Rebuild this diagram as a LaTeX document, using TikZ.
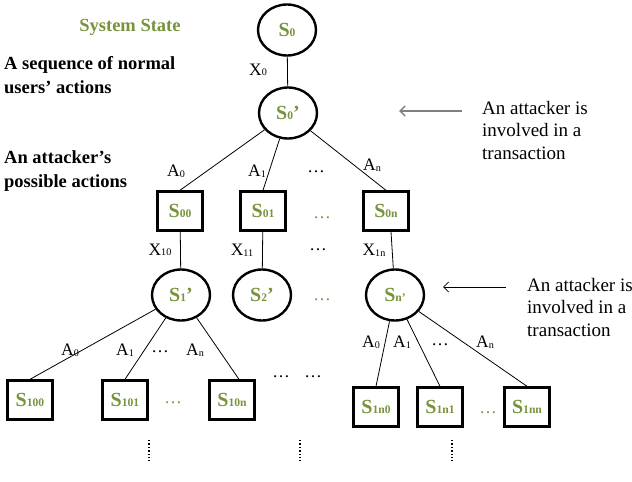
\documentclass[tikz,border=0pt]{standalone}
\usepackage{fontspec}
\setmainfont{Liberation Serif}
\usetikzlibrary{arrows,arrows.meta}
\usetikzlibrary{shapes}
\definecolor{stategreen}{HTML}{77933C}
\newcommand{\ix}[1]{\raisebox{-0.6pt}{\scalebox{0.58}{#1}}}
\tikzset{
  state/.style={ellipse, draw, line width=2.4pt, minimum width=58pt,
    minimum height=51pt, inner sep=0pt, text=stategreen,
    font=\fontsize{20}{20}\selectfont\bfseries},
  choice/.style={rectangle, draw, line width=2.4pt, minimum width=45pt,
    minimum height=39pt, inner sep=0pt, text=stategreen,
    font=\fontsize{20}{20}\selectfont\bfseries},
  lbl/.style={font=\fontsize{17.5}{17.5}\selectfont, inner sep=0pt},
  gdots/.style={lbl, text=stategreen},
  caption/.style={align=left, inner sep=0pt,
    font=\fontsize{18.5}{24}\selectfont\bfseries},
  note/.style={align=left, anchor=west, inner sep=0pt,
    font=\fontsize{19}{22.5}\selectfont},
  branch/.style={line width=0.8pt},
  pointer/.style={-{Straight Barb[length=5pt,width=10pt]}},
  vdots/.style={line width=1.8pt, dash pattern=on 1.4pt off 2pt},
}

\begin{document}
\begin{tikzpicture}[x=1pt, y=-1pt]
  \useasboundingbox (0,0) rectangle (632,482);

  \node[caption, text=stategreen] (title) at (130,27) {System State};
  \node[caption, anchor=west] (normal) at (4,75) {A sequence of normal\\users’ actions};
  \node[caption, anchor=west] (attack) at (4,171) {An attacker’s\\possible actions};

  \node[state] (S0) at (287,30) {S\ix{0}};
  \node[state] (S0p) at (288,113) {S\ix{0}’};
  \draw[branch] (S0) -- (S0p);
  \node[lbl] (x0) at (258,70) {X\ix{0}};

  \node[choice] (S00) at (180,211) {S\ix{00}};
  \node[choice] (S01) at (263,211) {S\ix{01}};
  \node[choice] (S0n) at (386,211) {S\ix{0n}};
  \node[gdots] (gd1) at (322,218) {\ldots};
  \draw[branch] (S0p) -- (S00.north) (S0p) -- (S01.north) (S0p) -- (S0n.north);
  \node[lbl] (a0) at (176,171) {A\ix{0}};
  \node[lbl] (a1) at (257,171) {A\ix{1}};
  \node[lbl] (ad) at (316,172) {\ldots};
  \node[lbl] (an) at (372,165) {A\ix{n}};

  \node[state] (S1p) at (181,295) {S\ix{1}’};
  \node[state] (S2p) at (262,295) {S\ix{2}’};
  \node[state] (Snp) at (395,295) {S\ix{n’}};
  \node[gdots] (gd2) at (322,300) {\ldots};
  \draw[branch] (S00) -- (S1p) (S01) -- (S2p) ([xshift=5pt]S0n.south) -- (Snp);
  \node[lbl] (x10) at (160,250) {X\ix{10}};
  \node[lbl] (x11) at (242,250) {X\ix{11}};
  \node[lbl] (xd) at (318,250) {\ldots};
  \node[lbl] (x1n) at (374,250) {X\ix{1n}};

  \node[choice] (S100) at (30,400) {S\ix{100}};
  \node[choice] (S101) at (125,400) {S\ix{101}};
  \node[choice] (S10n) at (232,400) {S\ix{10n}};
  \node[gdots] (gd3) at (173,403) {\ldots};
  \draw[branch] (S1p) -- (S100.north) (S1p) -- (S101.north)
    (S1p) -- ([xshift=7pt]S10n.north);
  \node[lbl] (b0) at (70,350) {A\ix{0}};
  \node[lbl] (b1) at (125,350) {A\ix{1}};
  \node[lbl] (bd) at (160,352) {\ldots};
  \node[lbl] (bn) at (195,350) {A\ix{n}};

  \node[choice] (S1n0) at (376,407) {S\ix{1n0}};
  \node[choice] (S1n1) at (440,407) {S\ix{1n1}};
  \node[choice] (S1nn) at (527,407) {S\ix{1nn}};
  \node[gdots] (gd4) at (488,413) {\ldots};
  \draw[branch] (Snp) -- (S1n0.north) (Snp) -- (S1n1.north) (Snp) -- (S1nn.north);
  \node[lbl] (c0) at (371,342) {A\ix{0}};
  \node[lbl] (c1) at (402,342) {A\ix{1}};
  \node[lbl] (cd) at (440,345) {\ldots};
  \node[lbl] (cn) at (485,342) {A\ix{n}};

  \node[lbl] (md1) at (281,377) {\ldots};
  \node[lbl] (md2) at (313,377) {\ldots};
  \draw[vdots] (149,440) -- (149,461);
  \draw[vdots] (300,440) -- (300,461);
  \draw[vdots] (452,440) -- (452,461);

  \node[note] (inv1) at (482,130) {An attacker is\\involved in a\\transaction};
  \coordinate (tail1) at (462,111);
  \coordinate (tip1) at (399,111);
  \draw[pointer, gray, line width=1.5pt] (tail1) -- (tip1);

  \node[note] (inv2) at (527,307) {An attacker is\\involved in a\\transaction};
  \coordinate (tail2) at (506,287);
  \coordinate (tip2) at (443,287);
  \draw[pointer, line width=0.8pt] (tail2) -- (tip2);
\end{tikzpicture}
\end{document}
